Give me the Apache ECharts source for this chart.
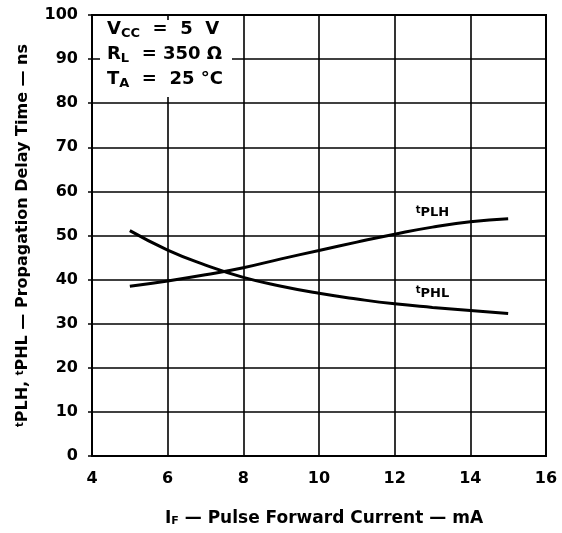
<!DOCTYPE html>
<html>
<head>
<meta charset="utf-8">
<script src="https://cdn.jsdelivr.net/npm/echarts@6/dist/echarts.min.js"></script>
<style>
  html, body { margin: 0; padding: 0; background: #fff; }
  #main { width: 562px; height: 533px; }
</style>
</head>
<body>
<div id="main"></div>
<script>
// forward current (mA)
var current = [5, 6, 7, 8, 9, 10, 11, 12, 13, 14, 15];
// propagation delay (ns)
var tPLH = [38.5, 39.7, 41.1, 42.7, 44.7, 46.6, 48.5, 50.3, 51.9, 53.1, 53.8];
var tPHL = [51.1, 46.7, 43.3, 40.5, 38.5, 36.9, 35.6, 34.5, 33.7, 33.0, 32.3];
var xTicks = [4, 6, 8, 10, 12, 14, 16];
var yTicks = [0, 10, 20, 30, 40, 50, 60, 70, 80, 90, 100];
var labelAt = 13; // curve names sit over this point

var font = 'DejaVu Sans';
var myChart = echarts.init(document.getElementById('main'));

function pairs(ys, name) {
  return current.map(function (x, i) {
    var item = { value: [x, ys[i]] };
    if (x === labelAt) {
      item.label = {
        show: true, position: 'top', distance: 6,
        formatter: '{s|t}{b|' + name + '}',
        rich: {
          s: { fontSize: 10, fontWeight: 'bold', fontFamily: font, color: '#000', padding: [0, 0, 6, 0] },
          b: { fontSize: 13, fontWeight: 'bold', fontFamily: font, color: '#000' }
        }
      };
    }
    return item;
  });
}

var xRich = {
  n: { fontSize: 17, fontWeight: 'bold', fontFamily: font, color: '#000' },
  sub: { fontSize: 11, fontWeight: 'bold', fontFamily: font, color: '#000', padding: [6, 0, 0, 0] }
};
var yRich = {
  n: { fontSize: 16, fontWeight: 'bold', fontFamily: font, color: '#000' },
  s: { fontSize: 10, fontWeight: 'bold', fontFamily: font, color: '#000', padding: [0, 0, 6, 0] }
};

myChart.setOption({
  animation: false,
  backgroundColor: '#fff',
  grid: { left: 92, right: 16, top: 15, bottom: 77 },
  xAxis: {
    type: 'value',
    min: xTicks[0], max: xTicks[xTicks.length - 1], interval: 2,
    name: '{n|I}{sub|F}{n| — Pulse Forward Current — mA}',
    nameLocation: 'middle', nameGap: 54,
    nameTextStyle: { rich: xRich, padding: [0, 0, 0, 10] },
    axisLine: { lineStyle: { color: '#000', width: 2 } },
    axisTick: { show: false },
    axisLabel: { margin: 15, fontSize: 16, fontWeight: 'bold', fontFamily: font, color: '#000' },
    splitLine: { show: true, lineStyle: { color: '#000', width: 1.6 } }
  },
  yAxis: {
    type: 'value',
    min: yTicks[0], max: yTicks[yTicks.length - 1], interval: 10,
    name: '{s|t}{n|PLH, }{s|t}{n|PHL — Propagation Delay Time — ns}',
    nameLocation: 'middle', nameGap: 61,
    nameTextStyle: { rich: yRich },
    axisLine: { show: true, lineStyle: { color: '#000', width: 2 } },
    axisTick: { show: true, length: 4, lineStyle: { color: '#000', width: 1.5 } },
    axisLabel: { margin: 14, fontSize: 16, fontWeight: 'bold', fontFamily: font, color: '#000' },
    splitLine: { show: true, lineStyle: { color: '#000', width: 1.6 } }
  },
  series: [
    {
      name: 'tPLH', type: 'line', smooth: true,
      symbol: 'circle', symbolSize: 0, showSymbol: true,
      lineStyle: { color: '#000', width: 3 },
      data: pairs(tPLH, 'PLH')
    },
    {
      name: 'tPHL', type: 'line', smooth: true,
      symbol: 'circle', symbolSize: 0, showSymbol: true,
      lineStyle: { color: '#000', width: 3 },
      data: pairs(tPHL, 'PHL')
    }
  ],
  graphic: [
    // right and top frame
    { type: 'rect', shape: { x: 92, y: 15, width: 454, height: 441 }, style: { fill: 'none', stroke: '#000', lineWidth: 2 }, z: 5 },
    // conditions box
    { type: 'rect', shape: { x: 100, y: 20, width: 132, height: 77 }, style: { fill: '#fff' }, z: 6 },
    {
      type: 'text', left: 107, top: 19, z: 7,
      style: {
        text: '{n|V}{sub|CC}{n|  =  5  V}\n{n|R}{sub|L}{n|  = 350 Ω}\n{n|T}{sub|A}{n|  =  25 °C}',
        rich: {
          n: { fontSize: 18, fontWeight: 'bold', fontFamily: font, fill: '#000', lineHeight: 25 },
          sub: { fontSize: 13, fontWeight: 'bold', fontFamily: font, fill: '#000', lineHeight: 25, padding: [8, 0, 0, 0] }
        }
      }
    }
  ]
});
</script>
</body>
</html>
